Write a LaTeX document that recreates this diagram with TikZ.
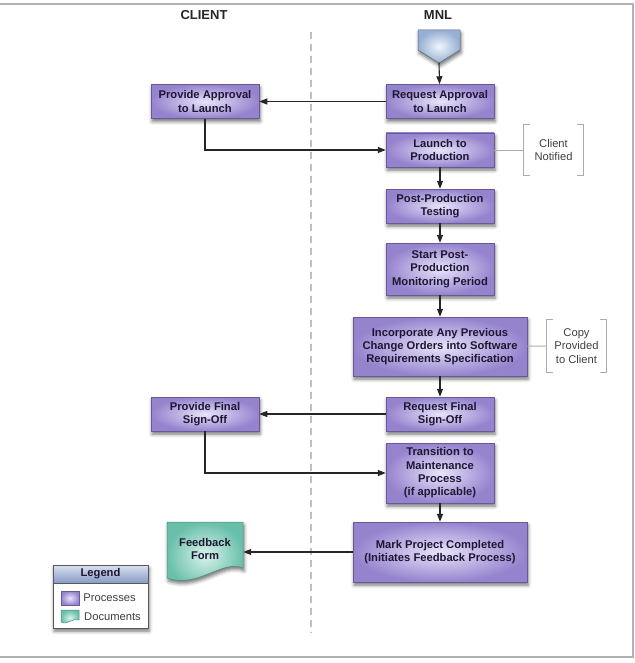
\documentclass[tikz,border=0pt]{standalone}
\usepackage{fontspec}
\setmainfont{Liberation Sans}
\usepackage{xcolor}
\usepackage{tikz}
\usetikzlibrary{positioning,arrows.meta,shadows.blur}

\definecolor{procedge}{RGB}{150,131,206}
\definecolor{proccentre}{RGB}{232,228,250}
\definecolor{procline}{RGB}{105,90,150}
\definecolor{docedge}{RGB}{105,192,170}
\definecolor{doccentre}{RGB}{218,243,236}
\definecolor{docline}{RGB}{80,140,125}
\definecolor{boxtext}{RGB}{30,22,50}
\definecolor{headblue}{RGB}{135,155,198}
\definecolor{headlight}{RGB}{218,225,240}
\definecolor{startedge}{RGB}{150,175,212}
\definecolor{startcentre}{RGB}{240,246,252}

\begin{document}
\begin{tikzpicture}[x=1pt, y=-1pt, >={Triangle[length=8pt,width=6pt]},
  shade/.style={blur shadow={shadow xshift=1pt, shadow yshift=-3pt, shadow blur radius=3.5pt, shadow opacity=55}},
  proc/.style={draw=procline, line width=0.5pt, inner color=proccentre, outer color=procedge, shade,
    align=center, font=\fontsize{11.2}{13.3}\selectfont\bfseries, text=boxtext,
    minimum width=108pt, minimum height=34pt, inner sep=2pt},
  flow/.style={->, line width=1.1pt, black!85},
  note/.style={align=center, font=\fontsize{11.2}{13.3}\selectfont, text=black!75,
    minimum width=59pt, minimum height=51pt},
  bracket/.style={gray!65, line width=0.9pt}]
  \useasboundingbox (0,0) rectangle (634,663);
  \draw[gray!60, line width=1.5pt] (0,4)--(633,4)--(633,657)--(0,657);

  % lanes
  \node[font=\fontsize{13}{15}\selectfont\bfseries, text=black!85] (client) at (204,15) {CLIENT};
  \node[font=\fontsize{13}{15}\selectfont\bfseries, text=black!85] (mnl) at (438,15) {MNL};
  \draw[gray!50, line width=1.2pt, dash pattern=on 7pt off 5pt] (311,32)--(311,633);

  % start connector
  \draw[startedge!60!black, line width=0.5pt, inner color=startcentre, outer color=startedge, shade]
        (418,30)--(460,30)--(460,50)--(439,63)--(418,50)--cycle;
  \coordinate (start) at (439,63);

  % processes
  \node[proc] (reqappr)  at (440,101.5) {Request Approval\\to Launch};
  \node[proc] (provappr) at (205,101.5) {Provide Approval\\to Launch};
  \node[proc] (launch)   at (440,150)   {Launch to\\Production};
  \node[proc] (pptest)   at (440,206)   {Post-Production\\Testing};
  \node[proc, minimum height=52pt] (monitor) at (440,269) {Start Post-\\Production\\Monitoring Period};
  \node[proc, minimum width=174pt, minimum height=59pt] (incorp) at (440,346.5)
        {Incorporate Any Previous\\Change Orders into Software\\Requirements Specification};
  \node[proc] (reqfinal)  at (440,414) {Request Final\\Sign-Off};
  \node[proc] (provfinal) at (205,414) {Provide Final\\Sign-Off};
  \node[proc, minimum height=60pt] (transition) at (440,473)
        {Transition to\\Maintenance\\Process\\(if applicable)};
  \node[proc, minimum width=174pt, minimum height=60pt] (markdone) at (440,552)
        {Mark Project Completed\\(Initiates Feedback Process)};

  % document
  \path[draw=docline, line width=0.5pt, inner color=doccentre, outer color=docedge, shade]
        (167,522)--(243,522)--(243,568) .. controls (222,559) and (198,589) .. (167,578)--cycle;
  \node[align=center, font=\fontsize{11.2}{13.3}\selectfont\bfseries, text=boxtext,
        minimum width=76pt, minimum height=46pt] (fbform) at (205,549) {Feedback\\Form};

  % notes
  \node[note] (notified) at (553.5,150) {Client\\Notified};
  \node[note, minimum height=52pt] (copyclient) at (576.5,346) {Copy\\Provided\\to Client};
  \draw[bracket] ([xshift=6pt]notified.north west) -| (notified.south west) -- ++(6,0);
  \draw[bracket] ([xshift=-6pt]notified.north east) -| (notified.south east) -- ++(-6,0);
  \draw[bracket] ([xshift=6pt]copyclient.north west) -| (copyclient.south west) -- ++(6,0);
  \draw[bracket] ([xshift=-6pt]copyclient.north east) -| (copyclient.south east) -- ++(-6,0);
  \draw[bracket] (launch) -- (notified);
  \draw[bracket] (incorp) -- (copyclient);

  % flow
  \draw[flow] (start) -- (reqappr);
  \draw[flow] (reqappr) -- (provappr);
  \draw[flow] (provappr) |- (launch);
  \draw[flow] (launch) -- (pptest);
  \draw[flow] (pptest) -- (monitor);
  \draw[flow] (monitor) -- (incorp);
  \draw[flow] (incorp) -- (reqfinal);
  \draw[flow] (reqfinal) -- (provfinal);
  \draw[flow] (provfinal) |- (transition);
  \draw[flow] (transition) -- (markdone);
  \draw[flow] (markdone.west) -- (markdone.west -| fbform.east);

  % legend
  \node[draw=gray!70!black, fill=white, line width=0.6pt, minimum width=95pt, minimum height=63pt,
        shade] (legend) at (100.5,596.5) {};
  \node[draw=gray!70!black, line width=0.6pt, top color=headlight, bottom color=headblue,
        minimum width=95pt, minimum height=18pt, anchor=north,
        font=\fontsize{11.2}{13}\selectfont\bfseries, text=boxtext] (leghead) at (legend.north) {Legend};
  \node[draw=procline, line width=0.5pt, inner color=proccentre, outer color=procedge,
        minimum width=18pt, minimum height=14pt, inner sep=0pt] (swproc) at (70,598) {};
  \node[right=3pt of swproc, inner sep=1pt, font=\fontsize{11.2}{13}\selectfont, text=black!75] (lbproc) {Processes};
  \path[draw=docline, line width=0.5pt, inner color=doccentre, outer color=docedge]
        (61,610)--(79,610)--(79,620) .. controls (73,617) and (67,626) .. (61,622)--cycle;
  \node[anchor=west, inner sep=1pt, font=\fontsize{11.2}{13}\selectfont, text=black!75] (lbdoc) at (83,617) {Documents};
\end{tikzpicture}
\end{document}
